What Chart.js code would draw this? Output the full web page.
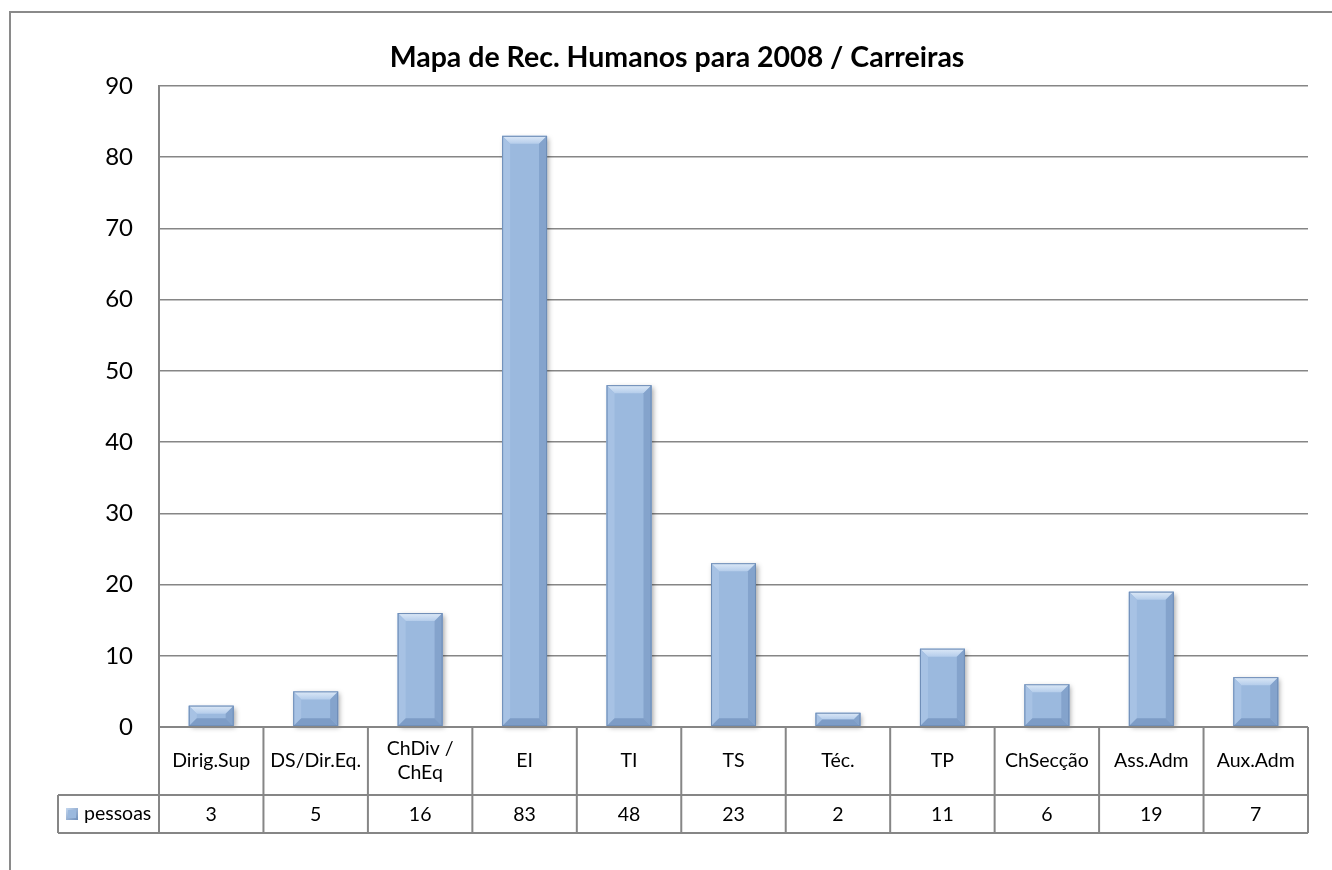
<!DOCTYPE html>
<html>
<head>
<meta charset="utf-8">
<title>Mapa de Rec. Humanos para 2008 / Carreiras</title>
<script src="https://cdn.jsdelivr.net/npm/chart.js@4/dist/chart.umd.min.js"></script>
<style>
  html, body { margin: 0; padding: 0; background: #fff; }
  #wrap { position: relative; width: 1332px; height: 870px; }
</style>
</head>
<body>
<div id="wrap"><canvas id="myChart" width="1332" height="870"></canvas></div>
<script>
// data
const chartTitle = 'Mapa de Rec. Humanos para 2008 / Carreiras';
const categories = ['Dirig.Sup', 'DS/Dir.Eq.', ['ChDiv /', 'ChEq'], 'EI', 'TI', 'TS', 'Téc.', 'TP', 'ChSecção', 'Ass.Adm', 'Aux.Adm'];
const pessoas = [3, 5, 16, 83, 48, 23, 2, 11, 6, 19, 7];
const seriesName = 'pessoas';
const yTicks = [0, 10, 20, 30, 40, 50, 60, 70, 80, 90];

const lineGray = '#868686';
const textFont = 'Lato, "Open Sans", sans-serif';

// outer frame of the excel chart object + title (centred on the frame, not the canvas)
const framePlugin = {
    id: 'frame',
    beforeDraw(chart) {
        const ctx = chart.ctx;
        ctx.save();
        ctx.strokeStyle = '#8a8a8a';
        ctx.lineWidth = 2;
        ctx.beginPath();
        ctx.moveTo(10, 870);
        ctx.lineTo(10, 12);
        ctx.lineTo(1332, 12);
        ctx.stroke();

        ctx.fillStyle = '#000';
        ctx.font = 'bold 28.5px ' + textFont;
        ctx.textAlign = 'center';
        ctx.textBaseline = 'middle';
        ctx.fillText(chartTitle, 677, 58);
        ctx.restore();
    }
};

function barBox(el) {
    const p = el.getProps(['x', 'y', 'base', 'width'], true);
    return { l: p.x - p.width / 2, r: p.x + p.width / 2, t: Math.min(p.y, p.base), b: Math.max(p.y, p.base) };
}

function poly(ctx, pts, fill) {
    ctx.beginPath();
    ctx.moveTo(pts[0][0], pts[0][1]);
    for (let i = 1; i < pts.length; i++) ctx.lineTo(pts[i][0], pts[i][1]);
    ctx.closePath();
    ctx.fillStyle = fill;
    ctx.fill();
}

// soft shadow + bevel look of the bars
const bevelPlugin = {
    id: 'bevel',
    beforeDatasetsDraw(chart) {
        const ctx = chart.ctx;
        ctx.save();
        chart.getDatasetMeta(0).data.forEach(el => {
            const b = barBox(el);
            ctx.shadowColor = 'rgba(0,0,0,0.35)';
            ctx.shadowBlur = 5;
            ctx.shadowOffsetX = 2;
            ctx.shadowOffsetY = 2;
            ctx.fillStyle = '#9bb9de';
            ctx.fillRect(b.l, b.t, b.r - b.l, b.b - b.t);
        });
        ctx.restore();
    },
    afterDatasetsDraw(chart) {
        const ctx = chart.ctx;
        ctx.save();
        chart.getDatasetMeta(0).data.forEach(el => {
            const b = barBox(el);
            const s = Math.min(8, (b.b - b.t) / 2, (b.r - b.l) / 2);
            const top = ctx.createLinearGradient(0, b.t, 0, b.t + s);
            top.addColorStop(0, '#dde9f7');
            top.addColorStop(1, '#b5cdeb');
            poly(ctx, [[b.l, b.t], [b.r, b.t], [b.r - s, b.t + s], [b.l + s, b.t + s]], top);
            poly(ctx, [[b.l, b.t], [b.l + s, b.t + s], [b.l + s, b.b - s], [b.l, b.b]], '#a7c2e4');
            poly(ctx, [[b.r, b.t], [b.r, b.b], [b.r - s, b.b - s], [b.r - s, b.t + s]], '#84a3cc');
            poly(ctx, [[b.l, b.b], [b.r, b.b], [b.r - s, b.b - s], [b.l + s, b.b - s]], '#7d9cc6');
            ctx.strokeStyle = '#6d8cb6';
            ctx.lineWidth = 1;
            ctx.strokeRect(b.l + 0.5, b.t + 0.5, b.r - b.l - 1, b.b - b.t - 1);
        });
        ctx.restore();
    }
};

// data table under the plot (category row + value row)
const tablePlugin = {
    id: 'dataTable',
    afterDraw(chart) {
        const ctx = chart.ctx;
        const area = chart.chartArea;
        const xs = chart.scales.x;
        const n = categories.length;
        const cw = (area.right - area.left) / n;
        const y0 = area.bottom, y1 = y0 + 68, y2 = y1 + 38;
        const legL = 58;

        ctx.save();
        ctx.strokeStyle = lineGray;
        ctx.lineWidth = 2;
        ctx.beginPath();
        ctx.moveTo(area.left, y0); ctx.lineTo(area.right, y0);
        ctx.moveTo(legL, y1); ctx.lineTo(area.right, y1);
        ctx.moveTo(legL, y2); ctx.lineTo(area.right, y2);
        ctx.moveTo(legL, y1); ctx.lineTo(legL, y2);
        for (let i = 0; i <= n; i++) {
            const x = area.left + i * cw;
            ctx.moveTo(x, y0); ctx.lineTo(x, y2);
        }
        ctx.stroke();

        ctx.fillStyle = '#000';
        ctx.font = '19.5px ' + textFont;
        ctx.textAlign = 'center';
        ctx.textBaseline = 'middle';
        categories.forEach((c, i) => {
            const cx = xs.getPixelForValue(i);
            const lines = Array.isArray(c) ? c : [c];
            const lh = 24;
            const start = (y0 + y1) / 2 - (lines.length - 1) * lh / 2;
            lines.forEach((t, k) => ctx.fillText(t, cx, start + k * lh));
            ctx.fillText(String(pessoas[i]), cx, (y1 + y2) / 2 + 1);
        });

        // legend key + series name
        const ky = (y1 + y2) / 2 - 6;
        const g = ctx.createLinearGradient(66, ky, 78, ky + 12);
        g.addColorStop(0, '#c4d7ef');
        g.addColorStop(1, '#6f8fba');
        ctx.fillStyle = g;
        ctx.fillRect(66, ky, 12, 12);
        ctx.fillStyle = '#9bb9de';
        ctx.fillRect(68, ky + 2, 8, 8);
        ctx.fillStyle = '#000';
        ctx.textAlign = 'left';
        ctx.fillText(seriesName, 84, (y1 + y2) / 2);
        ctx.restore();
    }
};

function showChart() {
    const ctx = document.getElementById('myChart');
    new Chart(ctx, {
        type: 'bar',
        data: {
            labels: categories,
            datasets: [{
                label: seriesName,
                data: pessoas,
                backgroundColor: '#9bb9de',
                borderWidth: 0,
                barPercentage: 0.43,
                categoryPercentage: 1
            }]
        },
        options: {
            responsive: false,
            animation: false,
            layout: { padding: { top: 86, left: 22, right: 24, bottom: 143 } },
            plugins: {
                legend: { display: false },
                tooltip: { enabled: false },
                title: { display: false }
            },
            scales: {
                x: { display: false },
                y: {
                    min: yTicks[0],
                    max: yTicks[yTicks.length - 1],
                    afterBuildTicks: (scale) => { scale.ticks = yTicks.map(v => ({ value: v })); },
                    afterFit: (scale) => { scale.width = 137; },
                    ticks: {
                        color: '#000',
                        padding: 26,
                        font: { family: textFont, size: 24 }
                    },
                    grid: { color: lineGray, lineWidth: 1.5, drawTicks: false },
                    border: { display: true, color: lineGray, width: 2 }
                }
            }
        },
        plugins: [framePlugin, bevelPlugin, tablePlugin]
    });
}

window.addEventListener('load', showChart);
</script>
</body>
</html>
